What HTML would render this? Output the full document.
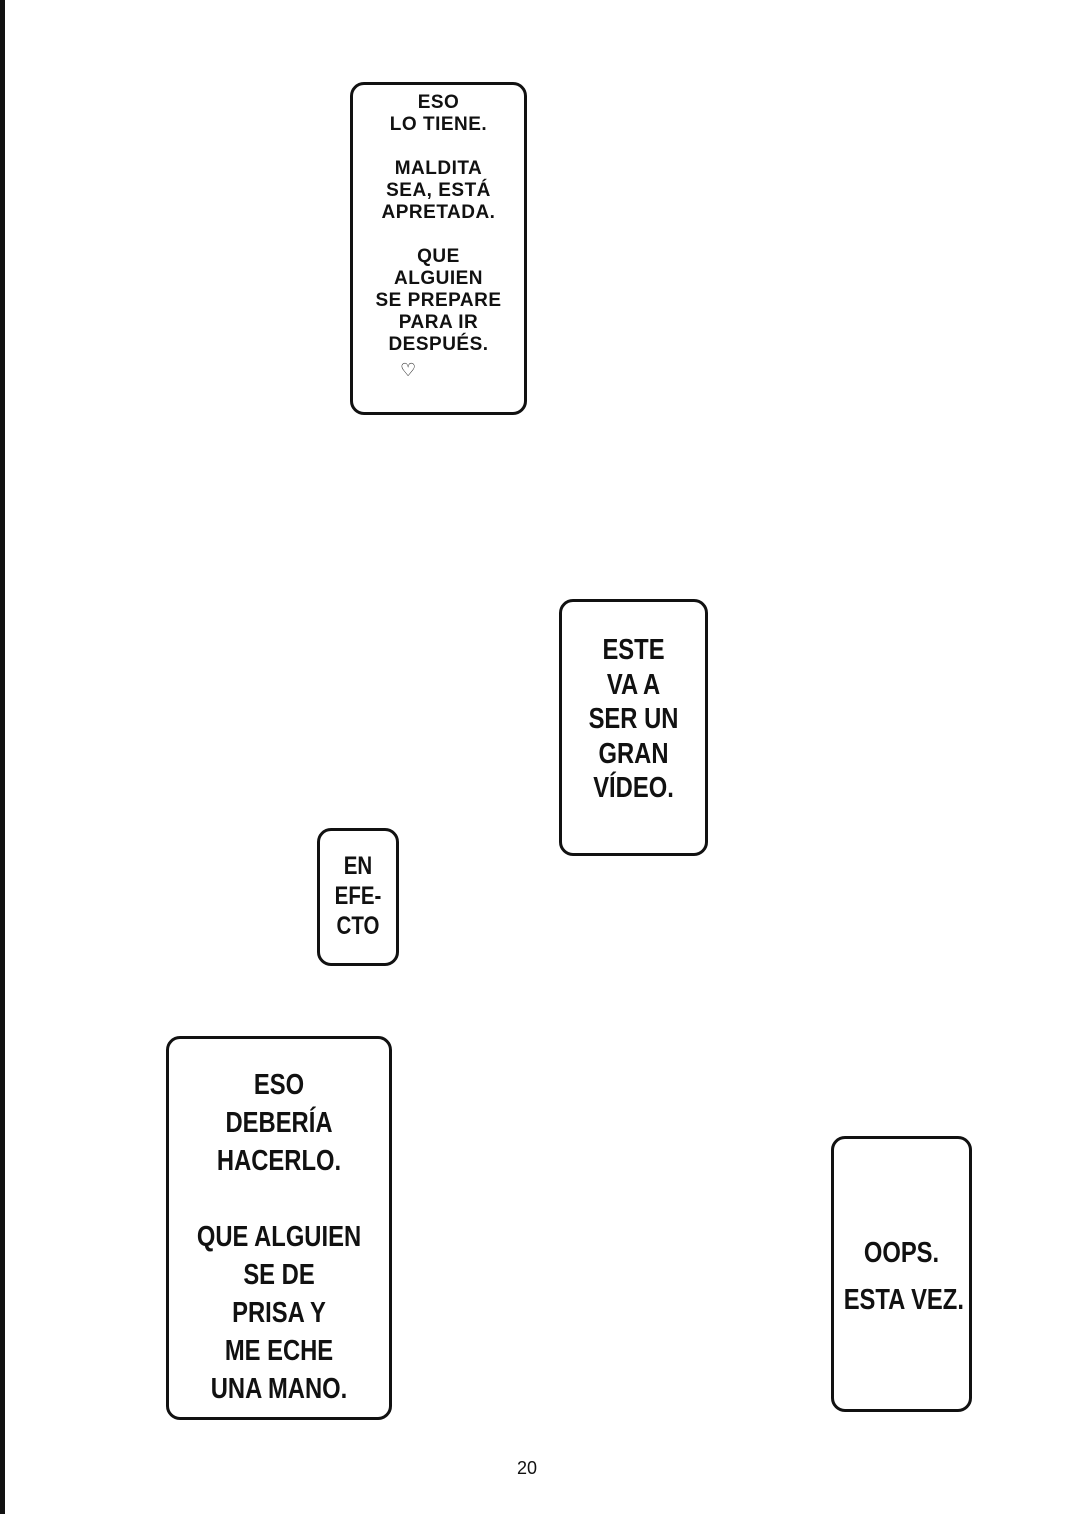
<!DOCTYPE html>
<html><head><meta charset="utf-8"><style>
html,body{margin:0;padding:0;background:#fff;}
body{width:1073px;height:1514px;position:relative;overflow:hidden;font-family:"Liberation Sans",sans-serif;color:#111;}
.edge{position:absolute;left:0;top:0;width:5px;height:1514px;background:#111;}
.b{position:absolute;border:3.5px solid #111;border-radius:14px;box-sizing:border-box;}
.t{position:absolute;text-align:center;white-space:pre;color:#111;}
.s{font-size:19px;line-height:22px;letter-spacing:0.5px;font-weight:600;}
.L{font-size:29px;line-height:37.5px;transform:scaleX(0.82);font-weight:bold;}
</style></head><body>
<div class="edge"></div>

<div class="b" style="left:350px;top:82px;width:177px;height:333px;"></div>
<div class="t s" style="left:350px;top:92px;width:177px;">ESO
LO TIENE.

MALDITA
SEA, ESTÁ
APRETADA.

QUE
ALGUIEN
SE PREPARE
PARA IR
DESPUÉS.</div>
<div class="t" style="left:400px;top:360px;font-size:18px;">♡</div>

<div class="b" style="left:559px;top:599px;width:149px;height:257px;"></div>
<div class="t L" style="left:559px;top:633px;width:149px;line-height:34.5px;">ESTE
VA A
SER UN
GRAN
VÍDEO.</div>

<div class="b" style="left:317px;top:828px;width:82px;height:138px;"></div>
<div class="t L" style="left:317px;top:851px;width:82px;font-size:25px;line-height:30px;">EN
EFE-
CTO</div>

<div class="b" style="left:166px;top:1036px;width:226px;height:384px;"></div>
<div class="t L" style="left:166px;top:1066px;width:226px;line-height:38px;">ESO
DEBERÍA
HACERLO.

QUE ALGUIEN
SE DE
PRISA Y
ME ECHE
UNA MANO.</div>

<div class="b" style="left:831px;top:1136px;width:141px;height:276px;"></div>
<div class="t L" style="left:831px;top:1230px;width:141px;line-height:47px;">OOPS.
ESTA VEZ.</div>

<div class="t" style="left:497px;top:1458px;width:60px;font-size:18px;">20</div>
</body></html>
